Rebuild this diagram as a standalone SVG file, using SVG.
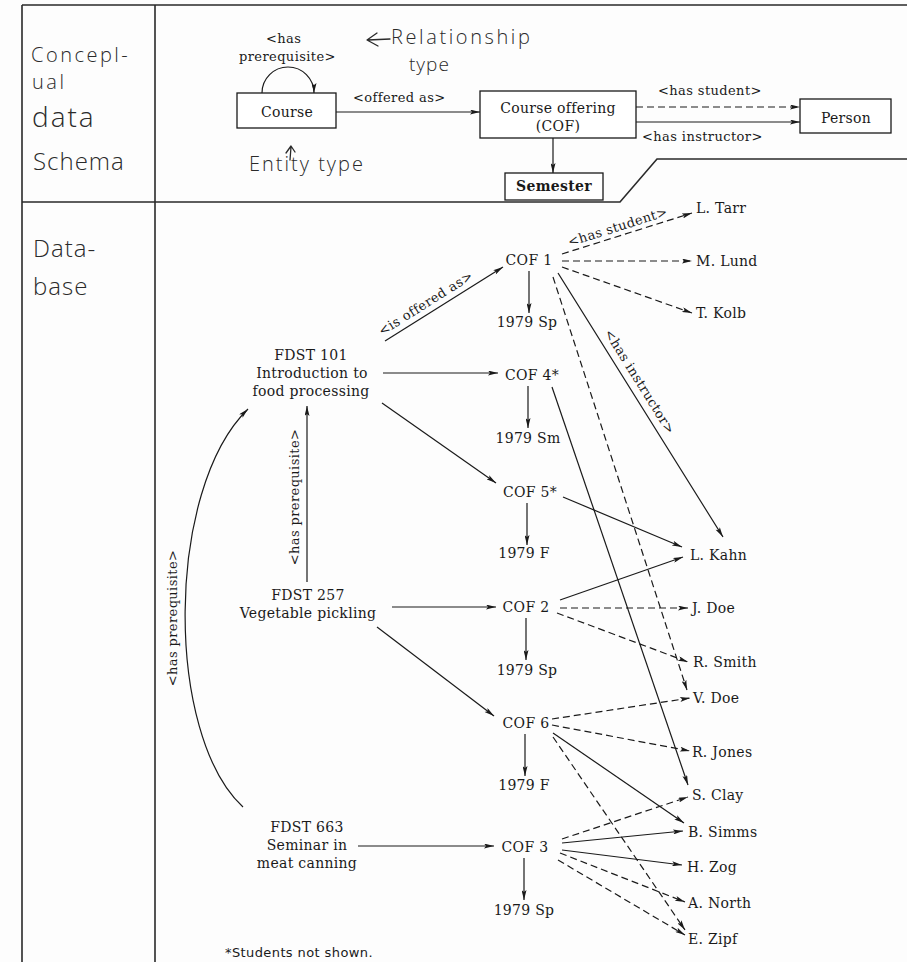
<svg xmlns="http://www.w3.org/2000/svg" width="907" height="962" viewBox="0 0 907 962">
  <style>
    .frame { fill: none; stroke: #2a2a2a; stroke-width: 1.6; }
    .hand { font-family: "Open Sans", "DejaVu Sans", sans-serif; font-weight: 300; fill: #2a2a2a; }
    .handline { fill: none; stroke: #2a2a2a; stroke-width: 1.3; stroke-linecap: round; stroke-linejoin: round; }
    .t { font-family: "DejaVu Serif", "Liberation Serif", serif; font-size: 14px; letter-spacing: 0.3px; fill: #1a1a1a; }
    .lbl { font-family: "DejaVu Serif", "Liberation Serif", serif; font-size: 13px; letter-spacing: 0.4px; fill: #1a1a1a; }
    .box { fill: #fff; stroke: #1a1a1a; stroke-width: 1.3; }
    .c { fill: none; stroke: #1a1a1a; stroke-width: 1.2; marker-end: url(#ah); }
    .d { stroke-dasharray: 7 4; }
    .note { font-family: "DejaVu Sans", "Liberation Sans", sans-serif; font-size: 13px; letter-spacing: 0.4px; fill: #1a1a1a; }
  </style>
  <defs>
    <marker id="ah" viewBox="0 0 12 6" refX="12" refY="3" markerWidth="12" markerHeight="5" markerUnits="userSpaceOnUse" orient="auto">
      <path d="M0,0 L12,3 L0,6 L2.5,3 z" fill="#1a1a1a"/>
    </marker>
  </defs>
  <rect width="907" height="962" fill="#fdfdfd"/>

  <!-- table frame -->
  <g id="frame">
    <path class="frame" d="M22 5 H907 M22 5 V962 M155 5 V962"/>
    <path class="frame" d="M22 202 H620 L657 159 H907"/>
  </g>

  <!-- row headings -->
  <g id="heading-schema">
    <text class="hand" x="31" y="62" font-size="20" letter-spacing="2.5">Concepl-</text>
    <text class="hand" x="32" y="89" font-size="20" letter-spacing="2.5">ual</text>
    <text class="hand" x="32" y="127" font-size="28" font-weight="400" letter-spacing="2">data</text>
    <text class="hand" x="33" y="170" font-size="24" letter-spacing="1">Schema</text>
  </g>
  <g id="heading-database">
    <text class="hand" x="33" y="257" font-size="24" letter-spacing="1">Data-</text>
    <text class="hand" x="33" y="295" font-size="24" letter-spacing="1">base</text>
  </g>

  <!-- conceptual schema -->
  <g id="course">
    <rect class="box" x="237" y="93" width="99" height="35"/>
    <text class="t" x="287" y="117" text-anchor="middle" letter-spacing="1">Course</text>
  </g>
  <g id="course-offering">
    <rect class="box" x="480" y="91" width="156" height="47"/>
    <text class="t" x="558" y="113" text-anchor="middle">Course offering</text>
    <text class="t" x="558" y="131" text-anchor="middle">(COF)</text>
  </g>
  <g id="person">
    <rect class="box" x="800" y="99" width="91" height="34"/>
    <text class="t" x="846" y="123" text-anchor="middle" letter-spacing="1">Person</text>
  </g>
  <g id="semester">
    <rect class="box" x="505" y="173" width="98" height="27" stroke-width="1.8"/>
    <text class="t" x="554" y="191" text-anchor="middle" font-weight="bold" letter-spacing="1">Semester</text>
  </g>

  <g id="schema-labels">
    <text class="lbl" x="266" y="43">&lt;has</text>
    <text class="lbl" x="239" y="61">prerequisite&gt;</text>
    <text class="lbl" x="353" y="102">&lt;offered as&gt;</text>
    <text class="lbl" x="658" y="95">&lt;has student&gt;</text>
    <text class="lbl" x="642" y="141">&lt;has instructor&gt;</text>
  </g>

  <!-- handwritten annotations -->
  <g id="note-relationship">
    <path class="handline" d="M368 40 L390 39 M377 33 L367 40 L378 46"/>
    <text class="hand" x="391" y="44" font-size="20" letter-spacing="2.6">Relationship</text>
    <text class="hand" x="409" y="71" font-size="19" letter-spacing="1">type</text>
  </g>
  <g id="note-entity">
    <path class="handline" d="M290 160 L291 147 M286 153 L291 146 L295 152"/>
    <text class="hand" x="249" y="171" font-size="20" letter-spacing="2">Entity type</text>
  </g>

  <!-- database nodes -->
  <g id="fdst101">
    <text class="t" x="311" y="360" text-anchor="middle">FDST 101</text>
    <text class="t" x="312" y="378" text-anchor="middle">Introduction to</text>
    <text class="t" x="311" y="396" text-anchor="middle">food processing</text>
  </g>
  <g id="fdst257">
    <text class="t" x="308" y="600" text-anchor="middle">FDST 257</text>
    <text class="t" x="308" y="618" text-anchor="middle">Vegetable pickling</text>
  </g>
  <g id="fdst663">
    <text class="t" x="307" y="832" text-anchor="middle">FDST 663</text>
    <text class="t" x="307" y="850" text-anchor="middle">Seminar in</text>
    <text class="t" x="307" y="868" text-anchor="middle">meat canning</text>
  </g>

  <g id="cof1"><text class="t" x="529" y="265" text-anchor="middle">COF 1</text></g>
  <g id="cof4"><text class="t" x="505" y="380">COF 4*</text></g>
  <g id="cof5"><text class="t" x="503" y="497">COF 5*</text></g>
  <g id="cof2"><text class="t" x="526" y="612" text-anchor="middle">COF 2</text></g>
  <g id="cof6"><text class="t" x="526" y="728" text-anchor="middle">COF 6</text></g>
  <g id="cof3"><text class="t" x="525" y="852" text-anchor="middle">COF 3</text></g>

  <g id="sem-cof1"><text class="t" x="527" y="327" text-anchor="middle">1979 Sp</text></g>
  <g id="sem-cof4"><text class="t" x="528" y="443" text-anchor="middle">1979 Sm</text></g>
  <g id="sem-cof5"><text class="t" x="524" y="558" text-anchor="middle">1979 F</text></g>
  <g id="sem-cof2"><text class="t" x="527" y="675" text-anchor="middle">1979 Sp</text></g>
  <g id="sem-cof6"><text class="t" x="524" y="790" text-anchor="middle">1979 F</text></g>
  <g id="sem-cof3"><text class="t" x="524" y="915" text-anchor="middle">1979 Sp</text></g>

  <g id="p-tarr"><text class="t" x="696" y="213">L. Tarr</text></g>
  <g id="p-lund"><text class="t" x="696" y="266">M. Lund</text></g>
  <g id="p-kolb"><text class="t" x="696" y="318">T. Kolb</text></g>
  <g id="p-kahn"><text class="t" x="690" y="560">L. Kahn</text></g>
  <g id="p-jdoe"><text class="t" x="692" y="613">J. Doe</text></g>
  <g id="p-smith"><text class="t" x="693" y="667">R. Smith</text></g>
  <g id="p-vdoe"><text class="t" x="693" y="703">V. Doe</text></g>
  <g id="p-jones"><text class="t" x="692" y="757">R. Jones</text></g>
  <g id="p-clay"><text class="t" x="692" y="800">S. Clay</text></g>
  <g id="p-simms"><text class="t" x="688" y="837">B. Simms</text></g>
  <g id="p-zog"><text class="t" x="687" y="872">H. Zog</text></g>
  <g id="p-north"><text class="t" x="688" y="908">A. North</text></g>
  <g id="p-zipf"><text class="t" x="688" y="944">E. Zipf</text></g>

  <text class="note" x="225" y="957">*Students not shown.</text>

  <!-- connectors -->
  <g id="connectors">
    <!-- schema -->
    <path class="c" d="M262 93 A26 26 0 0 1 314 93"/>
    <path class="c" d="M336 112 H480"/>
    <path class="c d" d="M636 107 H800"/>
    <path class="c" d="M636 122 H800"/>
    <path class="c" d="M553 138 V173"/>

    <!-- courses to offerings -->
    <path class="c" d="M385 341 L503 267"/>
    <path class="c" d="M383 373 L498 373"/>
    <path class="c" d="M382 403 L496 483"/>
    <path class="c" d="M392 607 L496 607"/>
    <path class="c" d="M377 627 L494 716"/>
    <path class="c" d="M358 846 L494 846"/>

    <!-- prerequisites -->
    <path class="c" d="M307 582 V406"/>
    <path class="c" d="M243 807 C165 735 165 490 248 409"/>

    <!-- offerings to semesters -->
    <path class="c" d="M529 271 V313"/>
    <path class="c" d="M528 386 V428"/>
    <path class="c" d="M527 503 V545"/>
    <path class="c" d="M526 618 V660"/>
    <path class="c" d="M525 734 V776"/>
    <path class="c" d="M524 858 V900"/>

    <!-- COF 1 -->
    <path class="c d" d="M562 254 L692 213"/>
    <path class="c d" d="M562 261 L692 261"/>
    <path class="c d" d="M562 267 L692 313"/>
    <path class="c d" d="M553 277 L687 690"/>
    <path class="c" d="M558 273 L723 537"/>
    <!-- COF 4 -->
    <path class="c" d="M552 387 L688 785"/>
    <!-- COF 5 -->
    <path class="c" d="M563 497 L682 547"/>
    <!-- COF 2 -->
    <path class="c" d="M560 600 L683 557"/>
    <path class="c d" d="M560 608 L688 608"/>
    <path class="c d" d="M557 613 L688 662"/>
    <!-- COF 6 -->
    <path class="c d" d="M552 719 L690 698"/>
    <path class="c d" d="M552 725 L690 751"/>
    <path class="c" d="M553 733 L684 823"/>
    <path class="c d" d="M553 737 L685 930"/>
    <!-- COF 3 -->
    <path class="c d" d="M562 839 L688 797"/>
    <path class="c" d="M562 843 L683 831"/>
    <path class="c" d="M562 850 L682 865"/>
    <path class="c d" d="M560 853 L685 902"/>
    <path class="c d" d="M558 860 L685 935"/>
  </g>

  <!-- relationship labels in the database -->
  <g id="db-labels">
    <text class="lbl" x="428" y="307" text-anchor="middle" transform="rotate(-32.3 428 307)">&lt;is offered as&gt;</text>
    <text class="lbl" x="619" y="231" text-anchor="middle" transform="rotate(-17.5 619 231)">&lt;has student&gt;</text>
    <text class="lbl" x="636" y="384" text-anchor="middle" transform="rotate(58 636 384)">&lt;has instructor&gt;</text>
    <text class="lbl" x="299" y="497" text-anchor="middle" transform="rotate(-90 299 497)">&lt;has prerequisite&gt;</text>
    <text class="lbl" x="177" y="618" text-anchor="middle" transform="rotate(-90 177 618)">&lt;has prerequisite&gt;</text>
  </g>
</svg>
